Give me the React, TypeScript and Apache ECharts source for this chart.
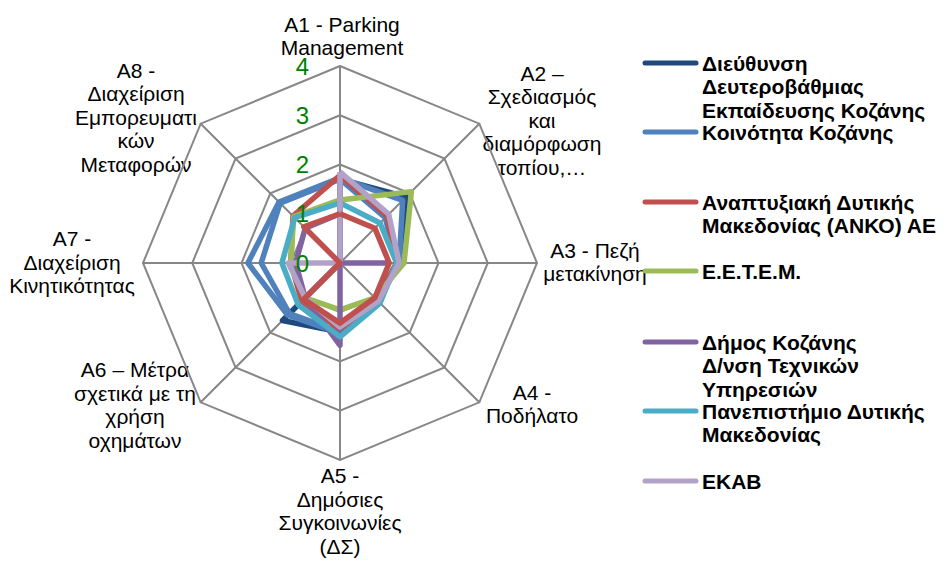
import React, { useEffect, useRef } from "react";
import * as echarts from "echarts";

// Axis (indicator) names, clockwise from the top
const axisNames = [
  "A1 - Parking\nManagement",
  "A2 –\nΣχεδιασμός\nκαι\nδιαμόρφωση\nτοπίου,…",
  "A3 - Πεζή\nμετακίνηση",
  "A4 -\nΠοδήλατο",
  "A5 -\nΔημόσιες\nΣυγκοινωνίες\n(ΔΣ)",
  "A6 – Μέτρα\nσχετικά με τη\nχρήση\nοχημάτων",
  "A7 -\nΔιαχείριση\nΚινητικότητας",
  "A8 -\nΔιαχείριση\nΕμπορευματι\nκών\nΜεταφορών",
];

const tickLabels = ["0", "1", "2", "3", "4"];

const seriesNames = [
  "Διεύθυνση Δευτεροβάθμιας Εκπαίδευσης Κοζάνης",
  "Κοινότητα Κοζάνης",
  "Αναπτυξιακή Δυτικής Μακεδονίας (ΑΝΚΟ) ΑΕ",
  "Ε.Ε.Τ.Ε.Μ.",
  "Δήμος Κοζάνης Δ/νση Τεχνικών Υπηρεσιών",
  "Πανεπιστήμιο Δυτικής Μακεδονίας",
  "ΕΚΑΒ",
];

const legendLines = [
  "Διεύθυνση\nΔευτεροβάθμιας\nΕκπαίδευσης Κοζάνης",
  "Κοινότητα Κοζάνης",
  "Αναπτυξιακή Δυτικής\nΜακεδονίας (ΑΝΚΟ) ΑΕ",
  "Ε.Ε.Τ.Ε.Μ.",
  "Δήμος Κοζάνης\nΔ/νση Τεχνικών\nΥπηρεσιών",
  "Πανεπιστήμιο Δυτικής\nΜακεδονίας",
  "ΕΚΑΒ",
];

// Values per series, A1..A8
const dieuthynsi = [1.7, 1.9, 1.2, 1.05, 1.4, 1.65, 0, 0];
const koinotita = [1.73, 1.8, 1.2, 1.1, 1.43, 1.5, 1.87, 1.75];
const anko = [1.78, 1.35, 1.15, 1.05, 1.35, 1.1, 1.0, 1.35];
const eetem = [1.28, 2.05, 1.3, 1.0, 0.95, 1.0, 1.0, 1.33];
const dimos = [1.0, 0, 0.97, 0, 1.67, 1.0, 0.9, 1.0];
const panepistimio = [1.22, 1.15, 1.15, 1.15, 1.5, 1.2, 1.18, 1.3];
const ekab = [1.85, 1.4, 1.2, 1.1, 1.3, 1.0, 1.05, 0];
// two further respondents drawn without a legend entry
const extraBlue = [1.7, 1.3, 1.15, 1.05, 1.4, 1.45, 1.6, 1.72];
const extraRed = [1.0, 1.0, 1.0, 1.0, 1.22, 1.04, 0, 1.04];

const colors = ["#1F497D", "#4F81BD", "#C0504D", "#9BBB59", "#8064A2", "#4BACC6", "#B3A2C7"];

const FONT = "'Liberation Sans', Arial, sans-serif";

export default function App() {
  const ref = useRef<HTMLDivElement>(null);

  useEffect(() => {
    if (!ref.current) return;
    const chart = echarts.init(ref.current, undefined, { renderer: "svg" });

    // ECharts places indicators counter-clockwise; reorder for clockwise layout
    const order = [0, 7, 6, 5, 4, 3, 2, 1];
    const reorder = (arr: number[]) => order.map((i) => arr[i]);

    const baseIndicator = order.map((i) => ({ name: axisNames[i], min: 0, max: 4 }));
    const labelIndicator = order.map((i) => {
      const ind: any = { name: axisNames[i], min: 0, max: 4 };
      if (i === 0) {
        ind.axisLabel = {
          show: true,
          color: "#008000",
          fontSize: 24,
          fontFamily: FONT,
          margin: 31,
          showMinLabel: true,
          showMaxLabel: true,
          formatter: (v: number) => tickLabels[Math.round(v)] ?? "",
        };
      }
      return ind;
    });

    const drawList: { name: string; values: number[]; color: string }[] = [
      { name: seriesNames[0], values: dieuthynsi, color: colors[0] },
      { name: seriesNames[1], values: koinotita, color: colors[1] },
      { name: "extra-blue", values: extraBlue, color: colors[1] },
      { name: seriesNames[2], values: anko, color: colors[2] },
      { name: seriesNames[3], values: eetem, color: colors[3] },
      { name: seriesNames[4], values: dimos, color: colors[4] },
      { name: seriesNames[5], values: panepistimio, color: colors[5] },
      { name: seriesNames[6], values: ekab, color: colors[6] },
      { name: "extra-red", values: extraRed, color: colors[2] },
    ];

    const namePos = [
      [342, 36],
      [542, 120],
      [595, 262],
      [532, 404],
      [340, 511],
      [135, 405],
      [72, 262],
      [136, 117],
    ];
    const legendY = [63, 132, 202, 271, 342, 411, 481];

    const graphic: any[] = [];
    axisNames.forEach((n, i) => {
      graphic.push({
        type: "text",
        x: namePos[i][0],
        y: namePos[i][1],
        style: {
          text: n,
          fill: "#000",
          font: `21px ${FONT}`,
          lineHeight: 23.5,
          align: "center",
          verticalAlign: "middle",
        },
      });
    });
    legendLines.forEach((t, i) => {
      graphic.push({
        type: "line",
        shape: { x1: 645, y1: legendY[i], x2: 696, y2: legendY[i] },
        style: { stroke: colors[i], lineWidth: 5, lineCap: "round" },
      });
      graphic.push({
        type: "text",
        x: 702,
        y: legendY[i] - 11.75,
        style: {
          text: t,
          fill: "#000",
          font: `bold 21px ${FONT}`,
          lineHeight: 23.5,
          align: "left",
          verticalAlign: "top",
        },
      });
    });

    const commonRadar = {
      center: [340, 263],
      radius: 197,
      shape: "polygon",
      splitNumber: 4,
      startAngle: 90,
      axisName: { show: false },
      axisTick: { show: false },
      splitArea: { show: false },
    };

    chart.setOption({
      animation: false,
      backgroundColor: "#fff",
      radar: [
        {
          ...commonRadar,
          indicator: baseIndicator,
          axisLine: { lineStyle: { color: "#878787", width: 2 } },
          splitLine: { lineStyle: { color: "#878787", width: 2 } },
          axisLabel: { show: false },
        },
        {
          ...commonRadar,
          z: 10,
          indicator: labelIndicator,
          axisLine: { show: false },
          splitLine: { show: false },
          axisLabel: { show: false },
        },
      ],
      graphic,
      series: drawList.map((d) => ({
        type: "radar",
        radarIndex: 0,
        name: d.name,
        symbol: "none",
        lineStyle: { color: d.color, width: 5.5, join: "round" },
        itemStyle: { color: d.color },
        data: [{ name: d.name, value: reorder(d.values) }],
      })),
    });

    return () => chart.dispose();
  }, []);

  return (
    <div
      ref={ref}
      style={{ position: "absolute", left: 0, top: 0, width: 944, height: 563 }}
    />
  );
}
